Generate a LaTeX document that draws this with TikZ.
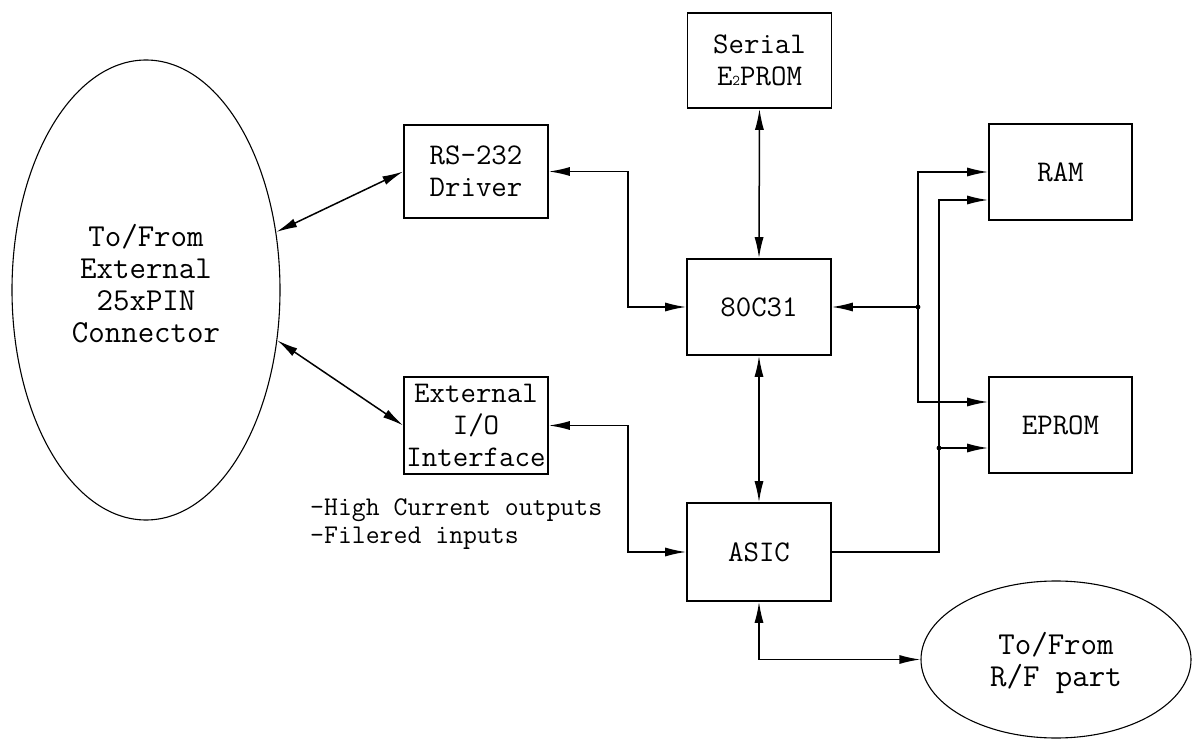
\documentclass[tikz,border=0pt]{standalone}
\usepackage{fontspec}
\usetikzlibrary{shapes.geometric,arrows.meta}
\newcommand\boxfont{\ttfamily\fontsize{30}{32}\selectfont}
\newcommand\ovalfont{\ttfamily\fontsize{32}{32}\selectfont}
\newcommand\notefont{\ttfamily\fontsize{27}{28}\selectfont}
\begin{document}
\begin{tikzpicture}[x=1pt,y=-1pt,
  >={Latex[length=21pt,width=9pt]},
  box/.style={draw, line width=1.6pt, minimum width=144pt, minimum height=96pt, inner sep=0pt, align=center, font=\boxfont},
  oval/.style={draw, ellipse, line width=1.1pt, inner sep=0pt},
  con/.style={line width=1.5pt},
  lbl/.style={align=center, font=\ovalfont, inner sep=0pt}]
\useasboundingbox[fill=white] (0,0) rectangle (1192,751);

% nodes
\node[oval, minimum width=268pt, minimum height=460pt] (conn) at (146,290) {};
\node[lbl] (conntext) at (146,284) {To/From\\External\\25xPIN\\Connector};
\node[box, minimum height=95pt] (ser) at (759.5,60.5) {Serial\\E{\fontsize{15}{15}\selectfont 2}PROM};
\node[box, minimum height=93pt] (rs) at (476,171.5) {RS-232\\Driver};
\node[box] (cpu) at (759,307) {80C31};
\node[box, minimum height=97pt] (io) at (476,425.5) {External\\I/O\\Interface};
\node[box, minimum height=98pt] (asic) at (759,552) {ASIC};
\node[box, minimum width=143pt] (ram) at (1060.5,172) {RAM};
\node[box, minimum width=143pt] (eprom) at (1060.5,425) {EPROM};
\node[oval, minimum width=270pt, minimum height=157pt] (rf) at (1056,659.5) {};
\node[lbl] (rftext) at (1056,663) {To/From\\R/F part};

\node[font=\notefont, anchor=base west, inner sep=0pt] (notea) at (310,515) {-High Current outputs};
\node[font=\notefont, anchor=base west, inner sep=0pt] (noteb) at (310,543) {-Filered inputs};

% connectors
\draw[con,<->] (conn.24.6) -- (rs.west);
\draw[con,<->] (conn.-21.7) -- (io.west);
\draw[con,<->] (rs.east) -- ++(79,0) |- (cpu.west);
\draw[con,<->] (io.east) -- ++(79,0) |- (asic.west);
\draw[con,<->] (ser.south) -- (cpu.north);
\draw[con,<->] (cpu.south) -- (asic.north);
\coordinate (j1) at (918,307);
\coordinate (j2) at (939,448);
\draw[con,->] (j1) -- (cpu.east);
\draw[con,->] (j1) |- (ram.west);
\draw[con,->] (j1) |- ([yshift=23pt]eprom.west);
\draw[con,->] (asic.east) -| (j2) |- ([yshift=-28pt]ram.west);
\draw[con,->] (j2) -- ([yshift=-23pt]eprom.west);
\draw[con,<->] (asic.south) |- (rf.west);
\fill (j1) circle (2.4);
\fill (j2) circle (2.4);
\end{tikzpicture}
\end{document}
